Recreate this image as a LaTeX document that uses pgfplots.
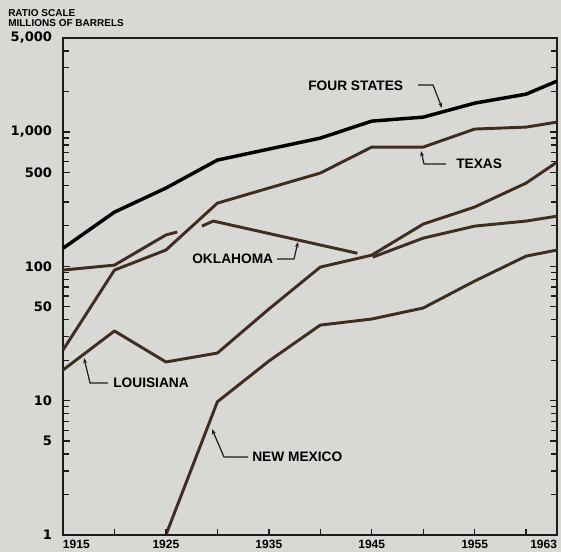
\documentclass[border=0pt]{standalone}
\usepackage{fontspec}
\setmainfont{Liberation Sans}
\newfontfamily\numfont{DejaVu Sans}
\usepackage{pgfplots}
\pgfplotsset{compat=1.18}
\usetikzlibrary{arrows.meta}

\definecolor{paper}{RGB}{216,216,213}
\definecolor{oilbrown}{RGB}{64,45,32}
\definecolor{frameink}{RGB}{28,28,28}

\begin{document}
\begin{tikzpicture}
% page background
\path[use as bounding box, fill=paper] (-47.25pt,-12.75pt) rectangle (373.5pt,401.25pt);

\begin{axis}[
  at={(0pt,0pt)}, anchor=south west,
  scale only axis, width=370.5pt, height=372.75pt,
  xmin=1915, xmax=1963,
  ymode=log, log basis y=10, ymin=1, ymax=5000,
  axis line style={frameink, line width=1.4pt},
  major tick length=0pt, minor tick length=0pt,
  xtick={1915,1920,1925,1930,1935,1940,1945,1950,1955,1960,1963},
  xticklabels={\rlap{1915},,1925,,1935,,1945,,1955,,\llap{1963}},
  xticklabel style={font=\bfseries\fontsize{9}{10}\selectfont, inner sep=0pt, anchor=north, yshift=-3.5pt},
  ytick={1,5,10,50,100,500,1000,5000},
  yticklabels={1,5,10,50,100,500,{1,000},{5,000}},
  yticklabel style={font=\numfont\bfseries\fontsize{9.8}{11}\selectfont, inner sep=0pt, anchor=east, xshift=-8pt},
]
% Four States
\addplot[black, line width=2.6pt, line join=round] coordinates {
  (1915,136) (1920,253) (1925,382) (1930,617) (1935,745) (1940,899)
  (1945,1203) (1950,1288) (1955,1637) (1960,1910) (1963,2388)};
% Texas
\addplot[oilbrown, line width=2.2pt, line join=round] coordinates {
  (1915,23.8) (1920,93.7) (1925,132) (1930,295) (1935,382) (1940,494)
  (1945,771) (1950,771) (1955,1050) (1960,1086) (1963,1183)};
% Oklahoma, broken where it crosses other series
\addplot[oilbrown, line width=2.2pt, line join=round] coordinates {
  (1915,93.7) (1920,102) (1925,171) (1926.1,180)};
\addplot[oilbrown, line width=2.2pt, line join=round] coordinates {
  (1928.5,199) (1929.6,217) (1940,144) (1943.6,125)};
\addplot[oilbrown, line width=2.2pt, line join=round] coordinates {
  (1945.1,117) (1950,162) (1955,199) (1960,217) (1963,236)};
% Louisiana
\addplot[oilbrown, line width=2.2pt, line join=round] coordinates {
  (1915,16.9) (1920,33) (1925,19.4) (1930,22.6) (1935,48) (1940,98.6)
  (1945,121) (1950,206) (1955,276) (1960,416) (1963,596)};
% New Mexico
\addplot[oilbrown, line width=2.2pt, line join=round] coordinates {
  (1925,1.0) (1930,9.8) (1935,19.7) (1940,36.5) (1945,40.5)
  (1950,48.9) (1955,77.6) (1960,119) (1963,132)};
\end{axis}

% captions, leaders and tick marks, in a pixel-like frame (origin top left);
% the plot box runs from (63,38) to (557,535)
\begin{scope}[shift={(-47.25pt,401.25pt)}, x=0.75pt, y=-0.75pt]
  % ratio-scale ticks on both vertical sides
  \begin{scope}[frameink, line width=1pt]
    \foreach \v in {5,10,50,100,500,1000} {
      \draw (63,{535-134.36*log10(\v)}) -- ++(7,0);
      \draw (557,{535-134.36*log10(\v)}) -- ++(-7,0);
    }
    \foreach \v in {2,3,4,6,7,8,9,20,30,40,60,70,80,90,200,300,400,600,700,800,900,2000,3000,4000} {
      \draw (63,{535-134.36*log10(\v)}) -- ++(6,0);
      \draw (557,{535-134.36*log10(\v)}) -- ++(-6,0);
    }
    % five-year ticks along the bottom
    \foreach \yr in {1920,1925,...,1960} {
      \draw ({63+10.29167*(\yr-1915)},535) -- ++(0,-6);
    }
  \end{scope}

  \node[anchor=base west, inner sep=0pt, font=\bfseries\fontsize{7.5}{8}\selectfont] at (8,17) {RATIO SCALE};
  \node[anchor=base west, inner sep=0pt, font=\bfseries\fontsize{7.5}{8}\selectfont] at (8,27) {MILLIONS OF BARRELS};

  \begin{scope}[font=\bfseries\fontsize{10.3}{12}\selectfont]
    \node[anchor=west, inner sep=0pt] at (308,86) {FOUR STATES};
    \node[anchor=west, inner sep=0pt] at (456,164) {TEXAS};
    \node[anchor=west, inner sep=0pt] at (192,259) {OKLAHOMA};
    \node[anchor=west, inner sep=0pt] at (113,383) {LOUISIANA};
    \node[anchor=west, inner sep=0pt] at (252,457) {NEW MEXICO};
  \end{scope}

  \begin{scope}[frameink, line width=0.9pt, -{Stealth[length=4pt,width=3pt]}]
    \draw (418,85) -- (433,85) -- (442,108);
    \draw (446,164) -- (424,164) -- (421,151);
    \draw (277,259) -- (294,259) -- (298,242);
    \draw (108,383) -- (90,383) -- (84,358);
    \draw (248,457) -- (224,457) -- (212,429);
  \end{scope}
\end{scope}
\end{tikzpicture}
\end{document}
